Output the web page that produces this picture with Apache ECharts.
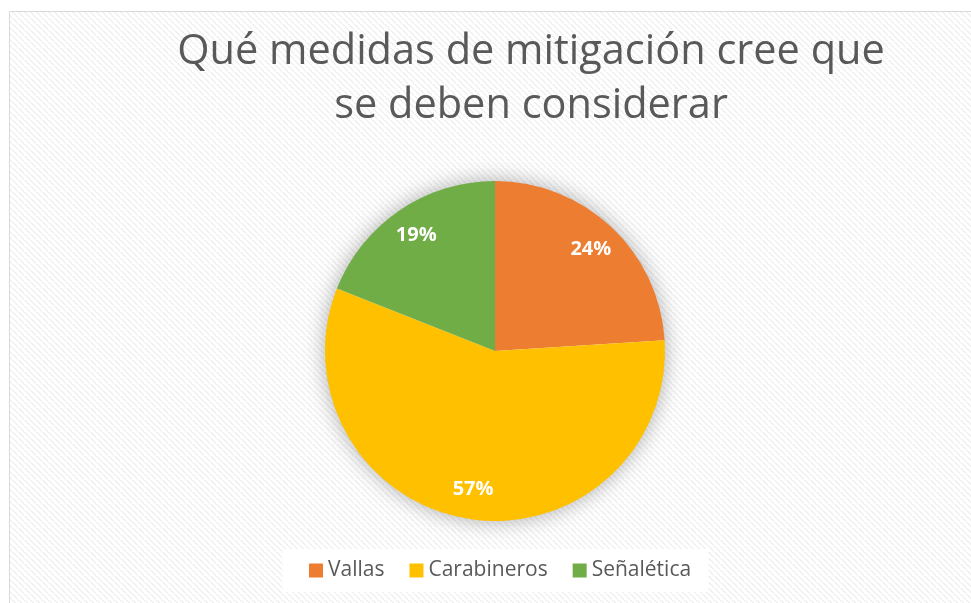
<!DOCTYPE html>
<html>
<head>
<meta charset="utf-8">
<script src="https://cdn.jsdelivr.net/npm/echarts@6/dist/echarts.min.js"></script>
<style>
  html, body { margin: 0; padding: 0; background: #fff; }
  #chart { width: 971px; height: 603px; }
</style>
</head>
<body>
<div id="chart"></div>
<script>
  var categories = ["Vallas", "Carabineros", "Señalética"];
  var values = [24, 57, 19];
  var colors = ["#ED7D31", "#FFC000", "#70AD47"];
  var titleText = "Qué medidas de mitigación cree que\nse deben considerar";

  // striped background like the excel chart area
  function stripes() {
    var c = document.createElement("canvas");
    c.width = 6; c.height = 6;
    var g = c.getContext("2d");
    g.fillStyle = "#ffffff";
    g.fillRect(0, 0, 6, 6);
    g.fillStyle = "#f0f0f0";
    for (var i = 0; i < 6; i++) {
      g.fillRect(i, i, 2, 1);
    }
    return c;
  }

  var pieData = categories.map(function (n, i) {
    return { name: n, value: values[i], itemStyle: { color: colors[i] } };
  });

  var chart = echarts.init(document.getElementById("chart"));
  chart.setOption({
    animation: false,
    backgroundColor: "#fff",
    textStyle: { fontFamily: "Open Sans" },
    graphic: [{
      type: "rect",
      z: -10,
      shape: { x: 9.5, y: 11.5, width: 980, height: 620 },
      style: { fill: { image: stripes(), repeat: "repeat" }, stroke: "#d9d9d9", lineWidth: 1 }
    }],
    title: {
      text: titleText,
      left: 526,
      textAlign: "center",
      top: 20,
      textStyle: { fontSize: 41.5, fontWeight: "normal", color: "#595959", lineHeight: 54, fontFamily: "Open Sans" }
    },
    legend: {
      data: categories,
      top: 549,
      left: 283,
      backgroundColor: "#ffffff",
      padding: [11, 17, 11, 26],
      itemWidth: 14,
      itemHeight: 14,
      itemGap: 25,
      icon: "rect",
      textStyle: { fontSize: 21, color: "#595959", fontFamily: "Open Sans" }
    },
    series: [
      {
        // soft shadow behind the whole pie
        type: "pie",
        silent: true,
        center: [495, 351],
        radius: [0, 169],
        z: 1,
        label: { show: false },
        labelLine: { show: false },
        itemStyle: { color: "#fff", shadowBlur: 22, shadowColor: "rgba(0,0,0,0.35)" },
        data: [{ value: 1, name: "" }]
      },
      {
        type: "pie",
        center: [495, 351],
        radius: [0, 170],
        startAngle: 90,
        clockwise: true,
        z: 2,
        label: { show: false },
        labelLine: { show: false },
        itemStyle: { borderWidth: 0 },
        data: pieData
      },
      {
        // label ring, Excel puts the labels near the rim
        type: "pie",
        silent: true,
        center: [495, 351],
        radius: [104, 170],
        startAngle: 90,
        clockwise: true,
        z: 3,
        itemStyle: { color: "transparent", borderWidth: 0 },
        label: {
          show: true,
          position: "inside",
          formatter: "{d}%",
          color: "#fff",
          fontSize: 20,
          fontWeight: "bold",
          fontFamily: "Open Sans"
        },
        labelLine: { show: false },
        data: categories.map(function (n, i) { return { name: n, value: values[i] }; })
      }
    ]
  });
</script>
</body>
</html>
